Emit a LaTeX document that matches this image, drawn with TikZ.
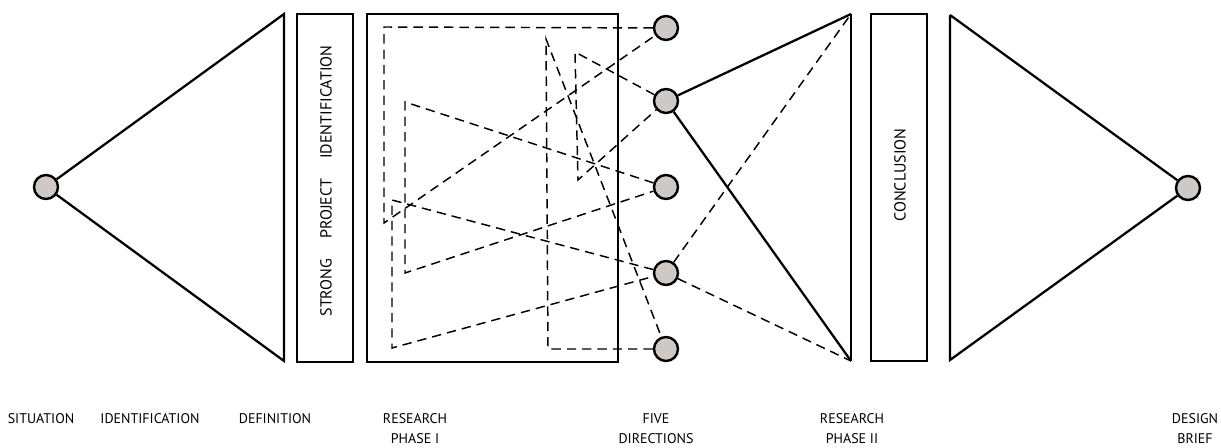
\documentclass[tikz,border=0pt]{standalone}
\usepackage{fontspec}
\setmainfont{PT Sans}

\begin{document}
\begin{tikzpicture}[x=0.75pt,y=0.75pt,yscale=-1,xscale=1,
    dot/.style={circle,draw,line width=1.8pt,fill={rgb,255:red,206;green,201;blue,197},minimum size=18pt,inner sep=0pt},
    solidline/.style={line width=1.7pt,line join=miter},
    dashline/.style={line width=1.1pt,dash pattern=on 7pt off 4.5pt},
    stagetext/.style={inner sep=0pt,anchor=base,align=center,font=\fontsize{10.5}{15}\selectfont},
    boxtext/.style={inner sep=0pt,rotate=90,font=\fontsize{12}{14}\selectfont}]
    \path[use as bounding box] (0,0) rectangle (1221,448);

    %Shape: Circle [situation]
    \node[dot] (sit) at (46,187) {};
    %Shape: Circles [five directions]
    \node[dot] (d1) at (666,28) {};
    \node[dot] (d2) at (666,101) {};
    \node[dot] (d3) at (666,187) {};
    \node[dot] (d4) at (666,273) {};
    \node[dot] (d5) at (666,349) {};
    %Shape: Circle [design brief]
    \node[dot] (brief) at (1188,188) {};

    % corners of the triangles
    \coordinate (idtop) at (284,14);
    \coordinate (idbot) at (284,361);
    \coordinate (r2top) at (851,14);
    \coordinate (r2bot) at (851,361);
    \coordinate (brtop) at (950,15);
    \coordinate (brbot) at (950,360);

    %Shape: Triangle [identification]
    \draw[solidline] (sit) -- (idtop) -- (idbot) -- (sit);
    %Shape: Rectangle [definition]
    \draw[solidline] (297,14) rectangle (353,362);
    %Shape: Rectangle [research phase I]
    \draw[solidline] (367,14) rectangle (618,362);
    %Shape: Rectangle [conclusion]
    \draw[solidline] (871,14) rectangle (927,361);
    %Shape: Triangle [design brief]
    \draw[solidline] (brtop) -- (brbot) -- (brief) -- (brtop);

    %Straight Lines [research phase II]
    \draw[solidline] (r2top) -- (r2bot);
    \draw[solidline] (d2) -- (r2top);
    \draw[solidline] (d2) -- (r2bot);
    \draw[dashline] (d4) -- (r2top);
    \draw[dashline] (d4) -- (r2bot);

    %Dashed Triangles [research phase I]
    \coordinate (a1) at (384,27);
    \coordinate (a2) at (384,223);
    \draw[dashline] (d1) -- (a1) -- (a2) -- (d1);
    \coordinate (b1) at (575,52);
    \coordinate (b2) at (578,180);
    \draw[dashline] (d2) -- (b1) -- (b2) -- (d2);
    \coordinate (c1) at (405,102);
    \coordinate (c2) at (405,273);
    \draw[dashline] (d3) -- (c1) -- (c2) -- (d3);
    \coordinate (e1) at (392,200);
    \coordinate (e2) at (392,348);
    \draw[dashline] (d4) -- (e1) -- (e2) -- (d4);
    \coordinate (f1) at (548,349);
    \coordinate (f2) at (546,39);
    \draw[dashline] (d5) -- (f1) -- (f2) -- (d5);

    % Text Node
    \node[boxtext] (deftext) at (326,181) {STRONG\quad\ PROJECT\quad\ IDENTIFICATION};
    % Text Node
    \node[boxtext] (context) at (900,175) {CONCLUSION};

    % Text Node
    \node[stagetext] (tsit) at (41,424) {SITUATION};
    % Text Node
    \node[stagetext] (tid) at (150,424) {IDENTIFICATION};
    % Text Node
    \node[stagetext] (tdef) at (275,424) {DEFINITION};
    % Text Node
    \node[stagetext] (tr1) at (415,444) {RESEARCH\\PHASE I};
    % Text Node
    \node[stagetext] (tfive) at (656,444) {FIVE\\DIRECTIONS};
    % Text Node
    \node[stagetext] (tr2) at (852,444) {RESEARCH\\PHASE II};
    % Text Node
    \node[stagetext] (tbrief) at (1195,444) {DESIGN\\BRIEF};

\end{tikzpicture}
\end{document}
